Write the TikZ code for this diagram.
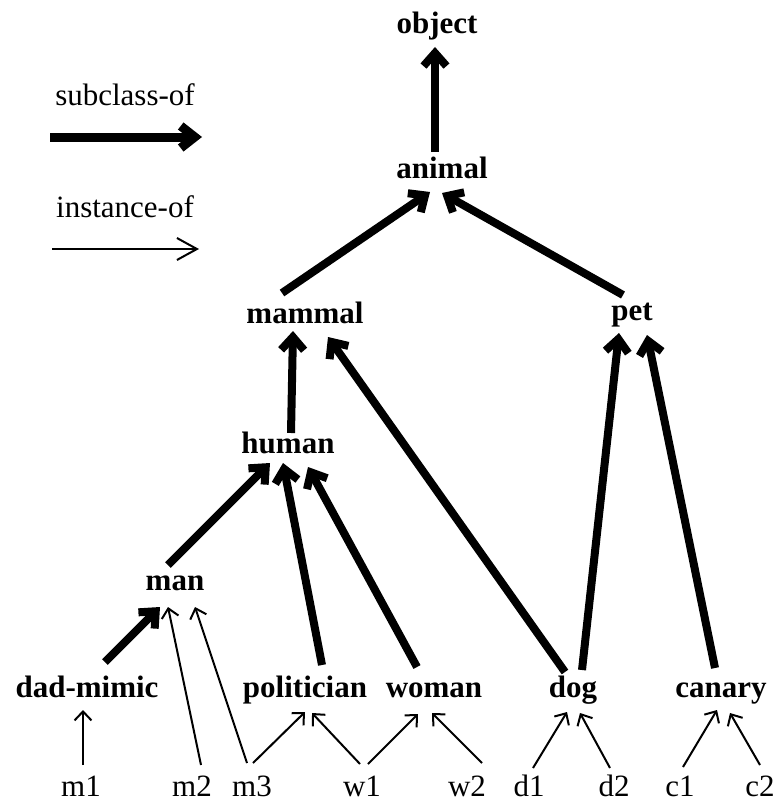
\documentclass[tikz,border=0pt]{standalone}
\usepackage{fontspec}
\setmainfont{Liberation Serif}
\usetikzlibrary{arrows.meta}
\begin{document}
\begin{tikzpicture}[x=1bp,y=-1bp,
  cls/.style={font=\bfseries\fontsize{31bp}{33bp}\selectfont, inner sep=0pt, anchor=base},
  ins/.style={font=\fontsize{31bp}{33bp}\selectfont, inner sep=0pt, anchor=base},
  sub/.style={line width=8bp, -{Straight Barb[length=13bp,width=23bp]}},
  inst/.style={line width=2bp, -{Straight Barb[length=9bp,width=17bp]}},
  subleg/.style={line width=9bp, -{Straight Barb[length=14bp,width=22bp]}},
  instleg/.style={line width=2bp, -{Straight Barb[length=20bp,width=22bp]}}]
\useasboundingbox (0,0) rectangle (777,803);
% class nodes
\node[cls] (object) at (437,34) {object};
\node[cls] (animal) at (442,178) {animal};
\node[cls] (mammal) at (305,323) {mammal};
\node[cls] (pet) at (632,320) {pet};
\node[cls] (human) at (288,453) {human};
\node[cls] (man) at (175,590) {man};
\node[cls] (dadmimic) at (87,697) {dad-mimic};
\node[cls] (politician) at (305,697) {politician};
\node[cls] (woman) at (434,697) {woman};
\node[cls] (dog) at (573,697) {dog};
\node[cls] (canary) at (721,697) {canary};
% instances
\node[ins] (m1) at (81,796) {m1};
\node[ins] (m2) at (192,796) {m2};
\node[ins] (m3) at (252,796) {m3};
\node[ins] (w1) at (362,796) {w1};
\node[ins] (w2) at (467,796) {w2};
\node[ins] (d1) at (529,796) {d1};
\node[ins] (d2) at (614,796) {d2};
\node[ins] (c1) at (680,796) {c1};
\node[ins] (c2) at (760,796) {c2};
% legend
\node[ins] (lsub) at (125,105) {subclass-of};
\node[ins] (linst) at (125,217) {instance-of};
\coordinate (ls1) at (50,137);
\coordinate (le1) at (202,137);
\coordinate (ls2) at (52,249);
\coordinate (le2) at (199,249);
\draw[subleg] (ls1) -- (le1);
\draw[instleg] (ls2) -- (le2);
% subclass-of
\draw[sub] ([shift={(-7,-26)}]animal.base) -- ([shift={(-2,13)}]object.base);
\draw[sub] ([shift={(-23,-30)}]mammal.base) -- ([shift={(-12,14)}]animal.base);
\draw[sub] ([shift={(-9,-25)}]pet.base) -- ([shift={(0,15)}]animal.base);
\draw[sub] ([shift={(3,-20)}]human.base) -- ([shift={(-12,8)}]mammal.base);
\draw[sub] ([shift={(-8,-25)}]dog.base) -- ([shift={(23,14)}]mammal.base);
\draw[sub] ([shift={(9,-27)}]dog.base) -- ([shift={(-13,13)}]pet.base);
\draw[sub] ([shift={(-6,-29)}]canary.base) -- ([shift={(15,15)}]pet.base);
\draw[sub] ([shift={(-7,-25)}]man.base) -- ([shift={(-18,10)}]human.base);
\draw[sub] ([shift={(17,-32)}]politician.base) -- ([shift={(-5,10)}]human.base);
\draw[sub] ([shift={(-17,-30)}]woman.base) -- ([shift={(20,14)}]human.base);
\draw[sub] ([shift={(18,-35)}]dadmimic.base) -- ([shift={(-15,17)}]man.base);
% instance-of
\draw[inst] ([shift={(2,-31)}]m1.base) -- ([shift={(-4,13)}]dadmimic.base);
\draw[inst] ([shift={(9,-31)}]m2.base) -- ([shift={(-7,17)}]man.base);
\draw[inst] ([shift={(-5,-33)}]m3.base) -- ([shift={(20,17)}]man.base);
\draw[inst] ([shift={(1,-33)}]m3.base) -- ([shift={(0,15)}]politician.base);
\draw[inst] ([shift={(-2,-32)}]w1.base) -- ([shift={(7,16)}]politician.base);
\draw[inst] ([shift={(6,-32)}]w1.base) -- ([shift={(-16,17)}]woman.base);
\draw[inst] ([shift={(15,-33)}]w2.base) -- ([shift={(-2,16)}]woman.base);
\draw[inst] ([shift={(4,-28)}]d1.base) -- ([shift={(-6,15)}]dog.base);
\draw[inst] ([shift={(-4,-28)}]d2.base) -- ([shift={(7,16)}]dog.base);
\draw[inst] ([shift={(3,-29)}]c1.base) -- ([shift={(-4,13)}]canary.base);
\draw[inst] ([shift={(0,-31)}]c2.base) -- ([shift={(9,16)}]canary.base);
\end{tikzpicture}
\end{document}
